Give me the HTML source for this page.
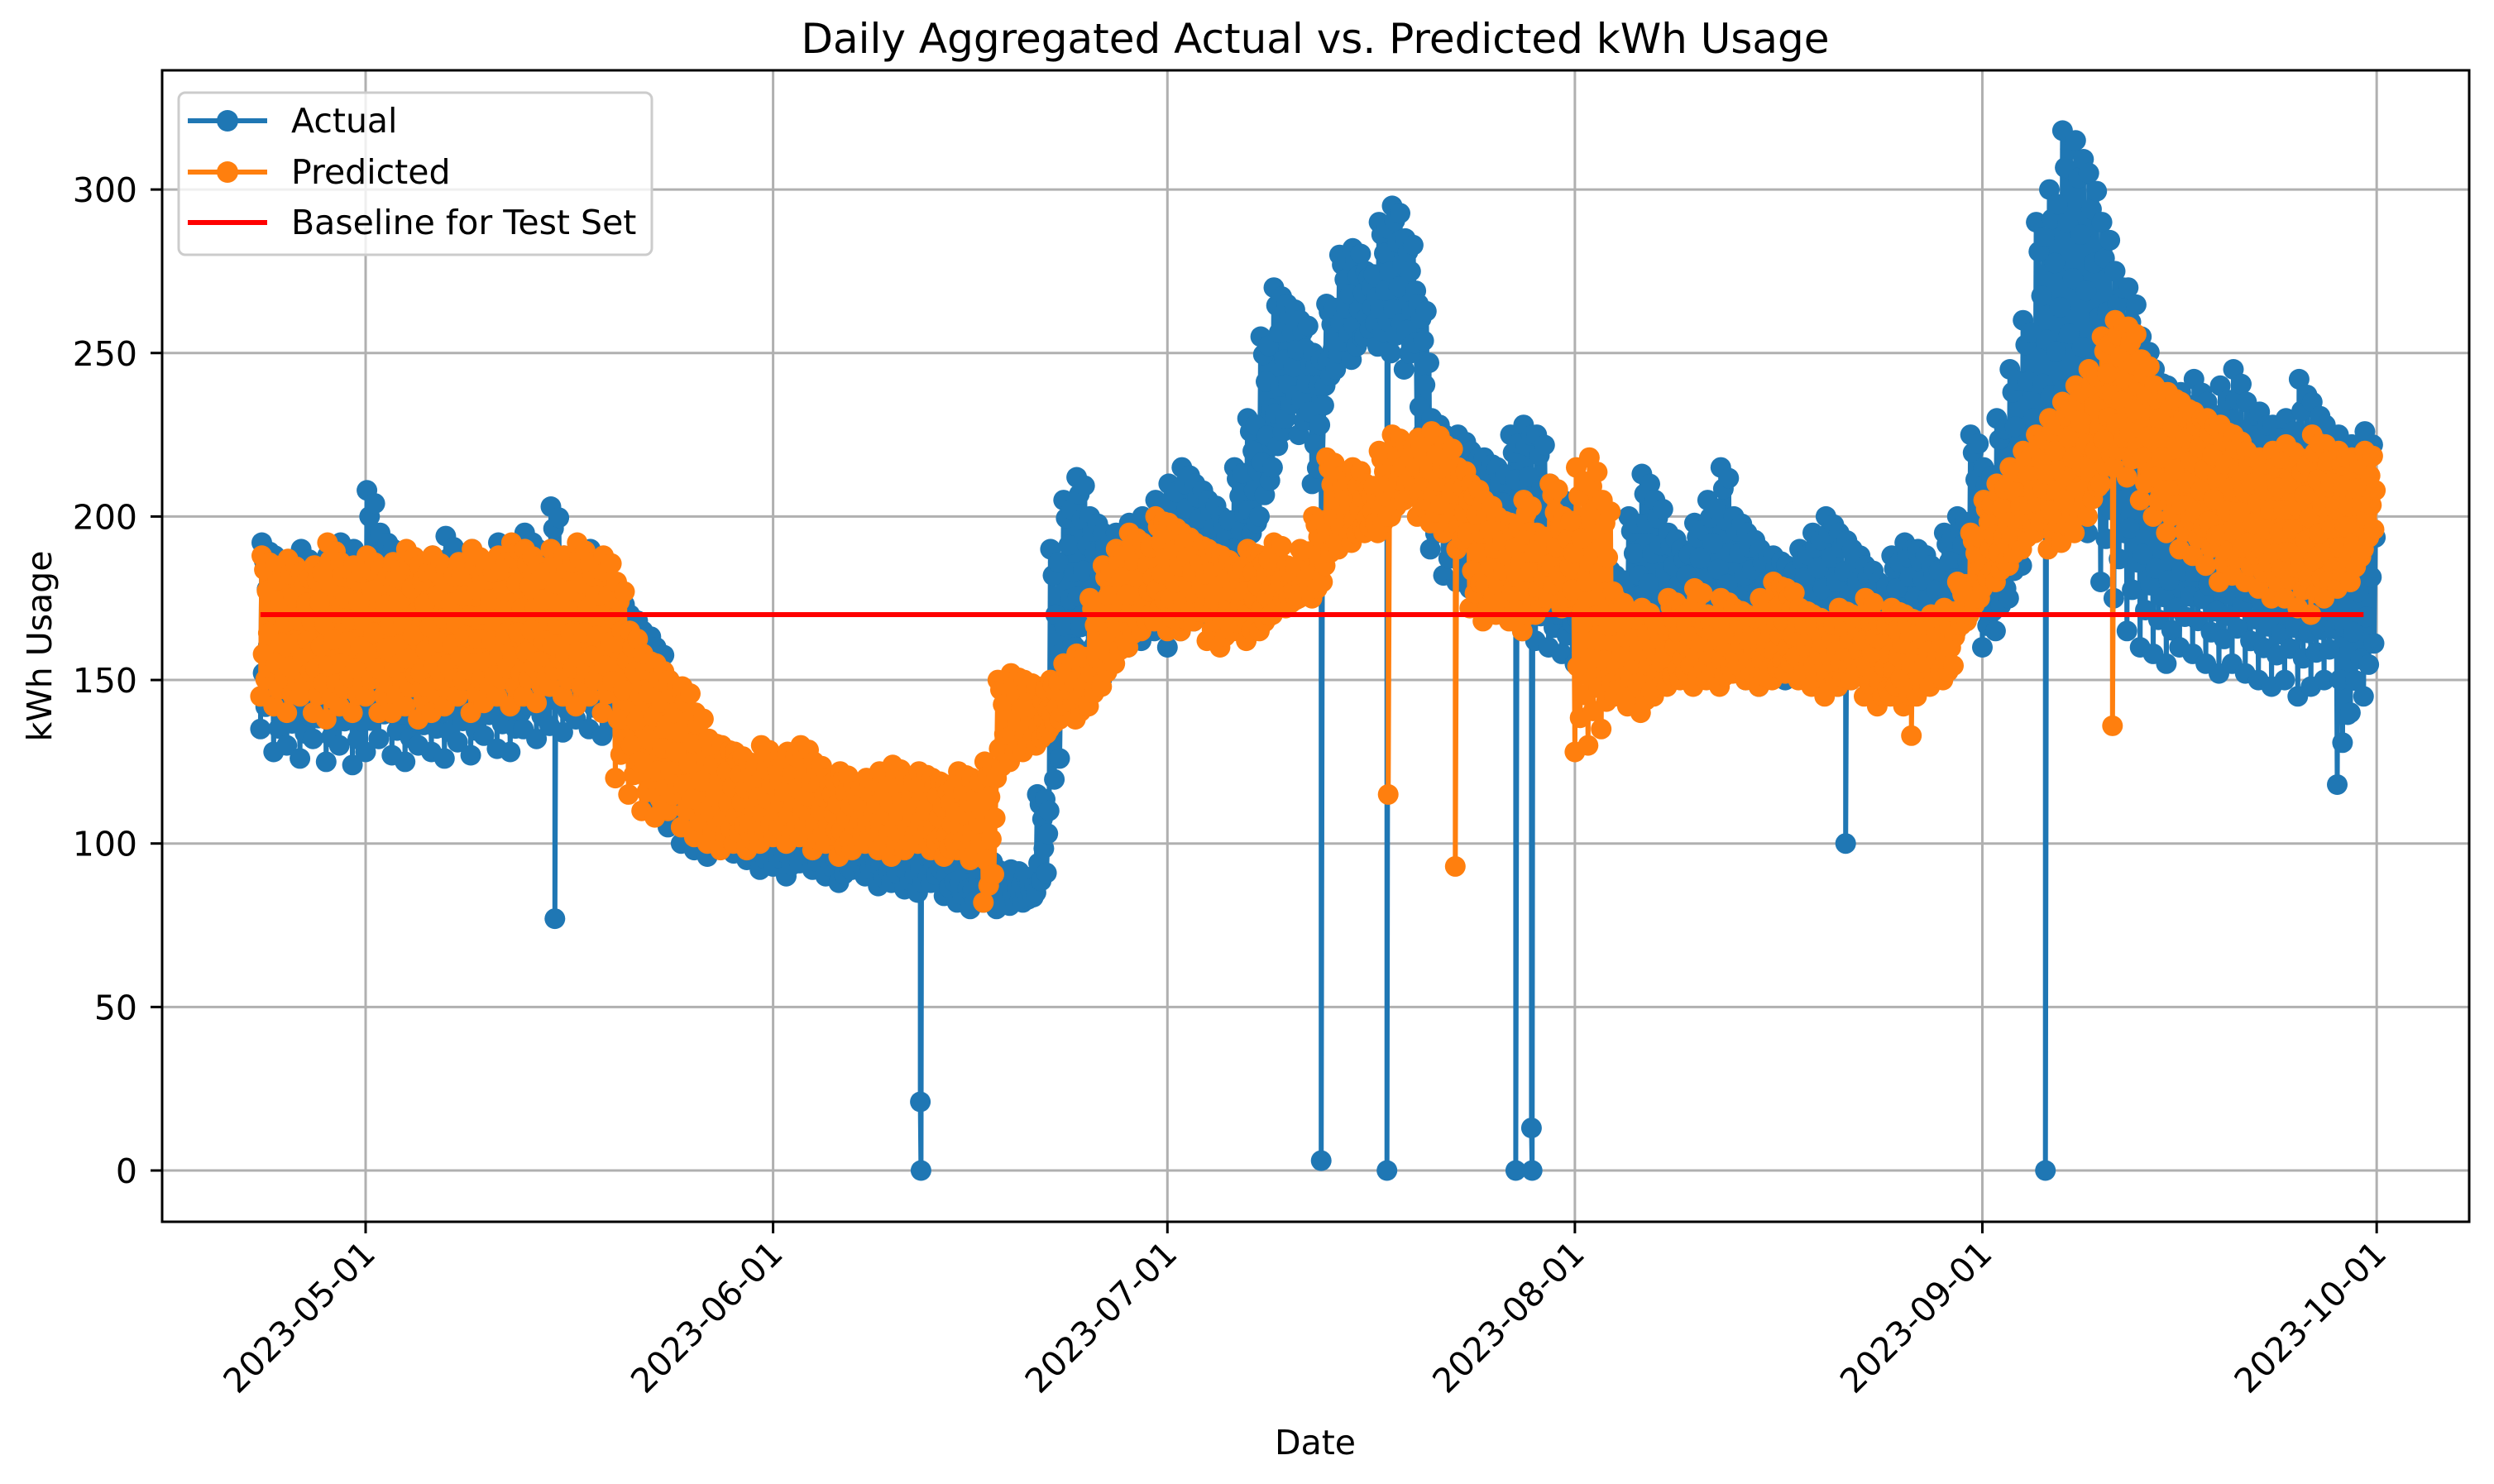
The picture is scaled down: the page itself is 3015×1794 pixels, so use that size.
<!DOCTYPE html>
<html><head><meta charset="utf-8"><style>
html,body{margin:0;padding:0;background:#fff;}
svg{display:block;font-family:"DejaVu Sans","Liberation Sans",sans-serif;}
</style></head><body>
<svg id="chart" width="3015" height="1794" viewBox="0 0 3015 1794" xmlns="http://www.w3.org/2000/svg">
<rect width="3015" height="1794" fill="#fff"/>
<g id="grid"></g>
<g id="series"></g>
<rect x="196" y="85" width="2789" height="1392" fill="none" stroke="#000" stroke-width="3"/>
<g id="axes"></g>
<text x="1590" y="64" font-size="50" text-anchor="middle">Daily Aggregated Actual vs. Predicted kWh Usage</text>
<text x="1590" y="1758" font-size="41" text-anchor="middle">Date</text>
<text transform="translate(62,781) rotate(-90)" font-size="41" text-anchor="middle">kWh Usage</text>
<g>
<rect x="216" y="112" width="572" height="196" rx="8" fill="#fff" fill-opacity="0.8" stroke="#ccc" stroke-width="3"/>
<g><line x1="227" y1="146" x2="323" y2="146" stroke="#1f77b4" stroke-width="6"/><circle cx="275" cy="146" r="13" fill="#1f77b4"/><text x="352" y="160" font-size="41">Actual</text></g>
<g><line x1="227" y1="208" x2="323" y2="208" stroke="#ff7f0e" stroke-width="6"/><circle cx="275" cy="208" r="13" fill="#ff7f0e"/><text x="352" y="222" font-size="41">Predicted</text></g>
<g><line x1="227" y1="269" x2="323" y2="269" stroke="#ff0000" stroke-width="6"/><text x="352" y="283" font-size="41">Baseline for Test Set</text></g>
</g>
</svg>
<script>
const yTicks=[0,50,100,150,200,250,300];
const xTickLabels=["2023-05-01","2023-06-01","2023-07-01","2023-08-01","2023-09-01","2023-10-01"];
const xTickDays=[8,39,69,100,131,161];
const actualLow=[135,128,130,126,132,125,130,124,128,132,127,125,130,128,126,131,127,133,129,128,135,132,136,134,138,135,133,136,132,130,112,105,100,98,96,100,97,95,92,93,90,94,92,90,88,92,90,87,88,86,85,88,84,82,80,82,80,81,82,85,110,150,160,155,150,158,160,162,165,160,165,168,170,175,180,190,200,215,230,225,210,240,250,248,255,252,250,245,220,190,182,180,178,175,172,170,165,162,160,158,155,152,155,150,155,152,150,155,158,155,152,150,155,150,148,152,150,155,152,150,148,150,152,150,148,150,152,155,160,165,170,160,165,175,185,200,210,205,200,195,180,175,165,160,158,155,160,158,155,152,155,152,150,148,150,145,148,150,118,140,145];
const actualHigh=[192,188,186,190,185,188,192,190,208,195,190,186,182,188,194,185,190,186,192,188,195,190,203,188,185,190,182,175,170,165,160,150,140,130,125,122,120,118,120,115,118,115,112,115,110,112,110,108,112,108,110,108,105,102,100,95,92,92,90,115,190,205,212,200,195,195,198,200,205,210,215,210,205,200,215,230,255,270,265,260,250,265,280,282,275,290,295,285,265,230,225,225,220,218,215,225,228,225,210,205,200,195,185,182,200,213,205,195,190,198,205,215,200,195,190,188,185,190,195,200,195,190,185,180,188,192,190,185,195,200,225,215,230,245,260,290,300,318,315,305,290,275,270,255,245,240,238,242,235,240,245,235,232,228,230,242,235,228,225,222,226];
const predLow=[145,142,140,145,140,138,142,140,145,140,140,142,138,140,142,145,140,143,145,142,145,143,148,145,142,145,140,120,115,110,108,110,105,102,100,98,100,98,100,102,100,102,98,100,96,98,100,98,96,98,100,98,96,98,95,82,120,125,128,130,135,140,138,142,148,155,160,165,168,165,165,168,162,160,165,162,165,170,172,175,175,185,190,192,195,195,200,205,200,198,195,190,172,168,170,168,165,170,175,172,128,130,135,145,142,140,145,148,150,148,150,148,152,150,148,150,152,150,148,145,148,150,145,142,145,142,145,148,150,165,170,178,180,185,190,195,190,192,195,200,210,215,212,205,200,195,190,188,185,180,182,180,178,175,175,172,170,175,178,180,190];
const predHigh=[188,185,187,183,185,192,186,185,188,184,186,190,185,188,184,186,190,185,188,192,190,185,190,188,192,186,188,180,165,158,155,150,148,140,132,130,128,125,130,125,128,130,125,120,122,118,120,122,124,120,122,120,118,122,120,125,150,152,150,148,150,155,158,175,185,190,195,192,200,198,195,192,190,188,185,190,188,192,185,190,200,218,212,215,210,220,225,222,224,226,222,215,210,205,200,198,205,195,210,200,215,218,205,175,170,172,168,175,172,178,170,175,172,170,175,180,178,172,170,168,172,170,175,168,172,170,168,170,172,180,195,205,210,215,220,225,230,235,240,245,255,260,258,248,240,238,235,232,230,228,225,220,218,220,222,218,225,222,220,218,220];
const actualSpikeDays=[22.4,50.2,50.25,80.7,85.7,95.5,96.7,96.75,120.6,135.8];
const actualSpikeVals=[77,21,0,3,0,0,13,0,100,0];
const predSpikeDays=[85.8,90.9,125.6,140.9];
const predSpikeVals=[115,93,133,136];
const baselineValue=170;
const baselineStartDay=0, baselineEndDay=160;

const NS="http://www.w3.org/2000/svg";
function xScale(d){return 442+(d-8)*15.89;}
function yScale(v){return 1415-v*3.953;}
function mk(tag,attrs,parent){const e=document.createElementNS(NS,tag);for(const k in attrs)e.setAttribute(k,attrs[k]);parent.appendChild(e);return e;}
const grid=document.getElementById('grid'),axes=document.getElementById('axes'),series=document.getElementById('series');
yTicks.forEach(v=>{
  const y=yScale(v);
  const g=mk('line',{x1:196,x2:2985,y1:y,y2:y,stroke:'#b0b0b0','stroke-width':3},grid);
  
  
  const t=mk('line',{x1:182,x2:196,y1:y,y2:y,stroke:'#000','stroke-width':3},axes);
  
  
  const l=mk('text',{x:166,y:y+15,'font-size':41,'text-anchor':'end'},axes);
  l.textContent=String(v);
  
  
});
xTickDays.forEach((d,i)=>{
  const x=xScale(d);
  const g=mk('line',{x1:x,x2:x,y1:85,y2:1477,stroke:'#b0b0b0','stroke-width':3},grid);
  
  
  const t=mk('line',{x1:x,x2:x,y1:1477,y2:1491,stroke:'#000','stroke-width':3},axes);
  
  
  const l=mk('text',{transform:`translate(${x+14},${1518}) rotate(-45)`,'font-size':41,'text-anchor':'end'},axes);
  l.textContent=xTickLabels[i];
  
  
});
const dayPattern=[0,1,0.3,0.9,0.12,0.75,0.45,0.95,0.2,0.6];
function buildPts(lo,hi,sd,sv){
  const pts=[];
  const n=dayPattern.length;
  lo.forEach((v,d)=>{dayPattern.forEach((f,k)=>pts.push([d+k/n,v+(hi[d]-v)*f]));});
  sd.forEach((d,i)=>pts.push([d,sv[i]]));
  pts.sort((a,b)=>a[0]-b[0]);
  return pts;
}
function drawSeries(pts,color,name){
  const g=mk('g',{},series);
  
  
  const p=mk('polyline',{points:pts.map(q=>xScale(q[0]).toFixed(1)+','+yScale(q[1]).toFixed(1)).join(' '),fill:'none',stroke:color,'stroke-width':6,'stroke-linejoin':'round'},g);
  
  
  pts.forEach(q=>{
    const c=mk('circle',{cx:xScale(q[0]).toFixed(1),cy:yScale(q[1]).toFixed(1),r:12.5,fill:color},g);
    
    
  });
}
drawSeries(buildPts(actualLow,actualHigh,actualSpikeDays,actualSpikeVals),'#1f77b4','actual-series');
drawSeries(buildPts(predLow,predHigh,predSpikeDays,predSpikeVals),'#ff7f0e','predicted-series');
const bl=mk('line',{x1:xScale(baselineStartDay),x2:xScale(baselineEndDay),y1:yScale(baselineValue),y2:yScale(baselineValue),stroke:'#ff0000','stroke-width':6},series);


</script>
</body></html>
